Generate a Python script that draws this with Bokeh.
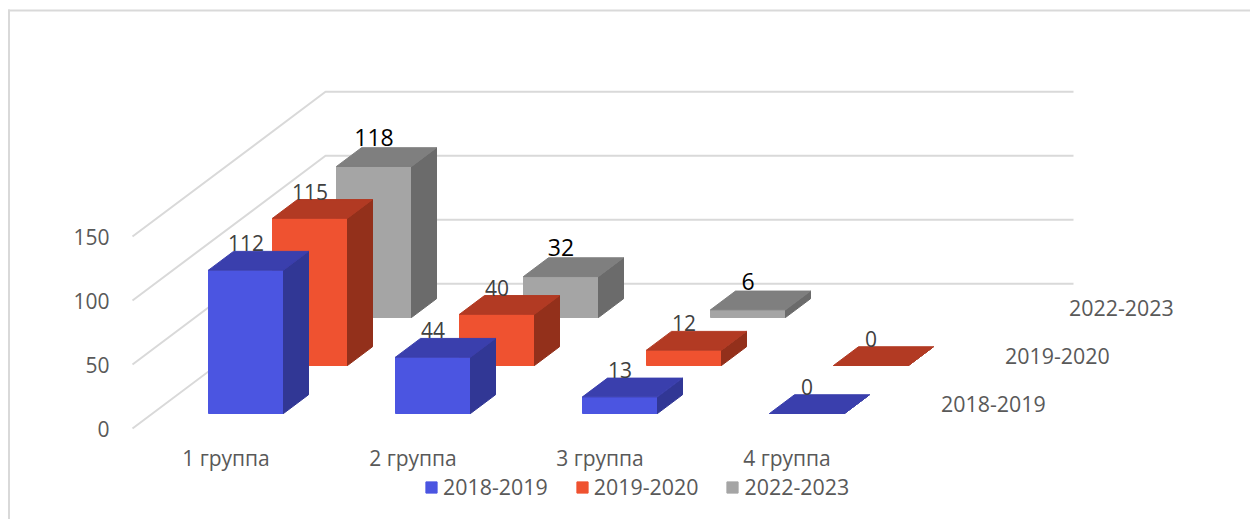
from bokeh.embed import file_html
from bokeh.resources import INLINE
from bokeh.plotting import figure
from bokeh.models import (BoxAnnotation, FixedTicker, LinearAxis, Legend, LegendItem, Range1d)
from bokeh.core.properties import value

# ---- data ----
categories = ["1 группа", "2 группа", "3 группа", "4 группа"]
series_names = ["2018-2019", "2019-2020", "2022-2023"]
values_2018_2019 = [112, 44, 13, 0]
values_2019_2020 = [115, 40, 12, 0]
values_2022_2023 = [118, 32, 6, None]
y_ticks = [0, 50, 100, 150]

front_colors = ["#4B55E1", "#EF5230", "#A5A5A5"]
side_colors = ["#313795", "#93301B", "#6B6B6B"]
top_colors = ["#3A3FAD", "#B23A23", "#7F7F7F"]
label_colors = ["#404040", "#404040", "#000000"]
label_sizes = ["21px", "21px", "23px"]
label_offsets = [-8, -8, -10]
FONT = "Open Sans"
TEXT = "#595959"
GRID = "#D9D9D9"

# ---- oblique projection (pixels per unit) ----
PX_CAT = 187.0     # horizontal pixels per category
PX_VAL = 1.28      # vertical pixels per value unit
SLOPE = 0.75       # depth: up-shift per pixel of right-shift
BAR_W = 75.0
BAR_D = 25.0
DEPTH_START = 20.0
DEPTH_STEP = 64.0
WALL_D = 193.0
W, H = 1250, 519
ORIGIN_X, ORIGIN_Y = 132, 428   # where category 0 / value 0 meet on the front edge
AXIS_Y = 432


def px(cat, depth):
    return cat + depth / PX_CAT


def py(val, depth):
    return val + depth * SLOPE / PX_VAL


p = figure(width=W, height=H, frame_width=W, frame_height=H,
           output_backend="svg", toolbar_location=None,
           x_range=Range1d(-ORIGIN_X / PX_CAT, (W - ORIGIN_X) / PX_CAT),
           y_range=Range1d(-(H - ORIGIN_Y) / PX_VAL, ORIGIN_Y / PX_VAL),
           x_axis_type=None, y_axis_type=None,
           min_border_left=0, min_border_right=0, min_border_top=0, min_border_bottom=0,
           outline_line_color=None, background_fill_color="white")
p.grid.visible = False

# axes, pinned inside the frame
xaxis = LinearAxis(fixed_location=-(AXIS_Y - ORIGIN_Y) / PX_VAL,
                   ticker=FixedTicker(ticks=[i + 0.5 for i in range(len(categories))]),
                   major_label_overrides={i + 0.5: c for i, c in enumerate(categories)},
                   major_label_standoff=5)
yaxis = LinearAxis(fixed_location=0, ticker=FixedTicker(ticks=y_ticks), major_label_standoff=17)
for ax in (xaxis, yaxis):
    ax.axis_line_color = None
    ax.major_tick_line_color = None
    ax.minor_tick_line_color = None
    ax.major_label_text_font = FONT
    ax.major_label_text_font_size = "21px"
    ax.major_label_text_color = TEXT
p.add_layout(xaxis, "below")
p.add_layout(yaxis, "left")

# chart frame (left and top rules)
p.add_layout(BoxAnnotation(left=7.5, right=9.5, top=9, bottom=H, left_units="canvas", right_units="canvas",
                           top_units="canvas", bottom_units="canvas", fill_color=GRID, fill_alpha=1, line_color=None))
p.add_layout(BoxAnnotation(left=7.5, right=W, top=9, bottom=11, left_units="canvas", right_units="canvas",
                           top_units="canvas", bottom_units="canvas", fill_color=GRID, fill_alpha=1, line_color=None))

# wall gridlines
n_cat = len(categories)
p.multi_line(xs=[[px(0, 0), px(0, WALL_D), px(n_cat, WALL_D)] for _ in y_ticks],
             ys=[[py(v, 0), py(v, WALL_D), py(v, WALL_D)] for v in y_ticks],
             line_color=GRID, line_width=2)

all_values = [values_2018_2019, values_2019_2020, values_2022_2023]
legend_items = [None] * 3
gap = (PX_CAT - BAR_W) / 2

# back series first so the front ones cover them
for s in (2, 1, 0):
    vals = all_values[s]
    d0 = DEPTH_START + s * DEPTH_STEP
    d1 = d0 + BAR_D
    fx, fy, sx, sy, tx, ty = [], [], [], [], [], []
    for i, v in enumerate(vals):
        if v is None:
            continue
        x0 = i + gap / PX_CAT
        x1 = x0 + BAR_W / PX_CAT
        fx.append([px(x0, d0), px(x1, d0), px(x1, d0), px(x0, d0)])
        fy.append([py(0, d0), py(0, d0), py(v, d0), py(v, d0)])
        sx.append([px(x1, d0), px(x1, d1), px(x1, d1), px(x1, d0)])
        sy.append([py(0, d0), py(0, d1), py(v, d1), py(v, d0)])
        tx.append([px(x0, d0), px(x1, d0), px(x1, d1), px(x0, d1)])
        ty.append([py(v, d0), py(v, d0), py(v, d1), py(v, d1)])
    front = p.patches(fx, fy, fill_color=front_colors[s], line_color=front_colors[s], line_width=1)
    p.patches(sx, sy, fill_color=side_colors[s], line_color=side_colors[s], line_width=1)
    p.patches(tx, ty, fill_color=top_colors[s], line_color=top_colors[s], line_width=1)
    legend_items[s] = LegendItem(label=series_names[s], renderers=[front])
    # depth axis label
    dm = d0 + BAR_D / 2
    p.text(x=[px(n_cat, dm)], y=[py(0, dm)], text=[series_names[s]], x_offset=28,
           text_align="left", text_baseline="middle",
           text_font=value(FONT), text_font_size="21.4px", text_color=TEXT)

# data labels sit on the back edge of the top face, above every bar
for s in (2, 1, 0):
    d0 = DEPTH_START + s * DEPTH_STEP
    d1 = d0 + BAR_D
    shown = [(i, v) for i, v in enumerate(all_values[s]) if v is not None]
    p.text(x=[px(i + 0.5, d0) for i, v in shown], y=[py(v, d1) for i, v in shown],
           text=[str(v) for i, v in shown], y_offset=label_offsets[s], text_align="center", text_baseline="middle",
           text_font=value(FONT), text_font_size=label_sizes[s], text_color=label_colors[s])

legend = Legend(items=legend_items, orientation="horizontal", location=(424, 18),
                border_line_color=None, background_fill_color=None, padding=0, margin=0,
                glyph_width=14, glyph_height=14, label_standoff=5, spacing=27,
                label_text_font=FONT, label_text_font_size="21.4px", label_text_color=TEXT)
p.add_layout(legend, "center")

open("out.html", "w").write(file_html(p, INLINE))
